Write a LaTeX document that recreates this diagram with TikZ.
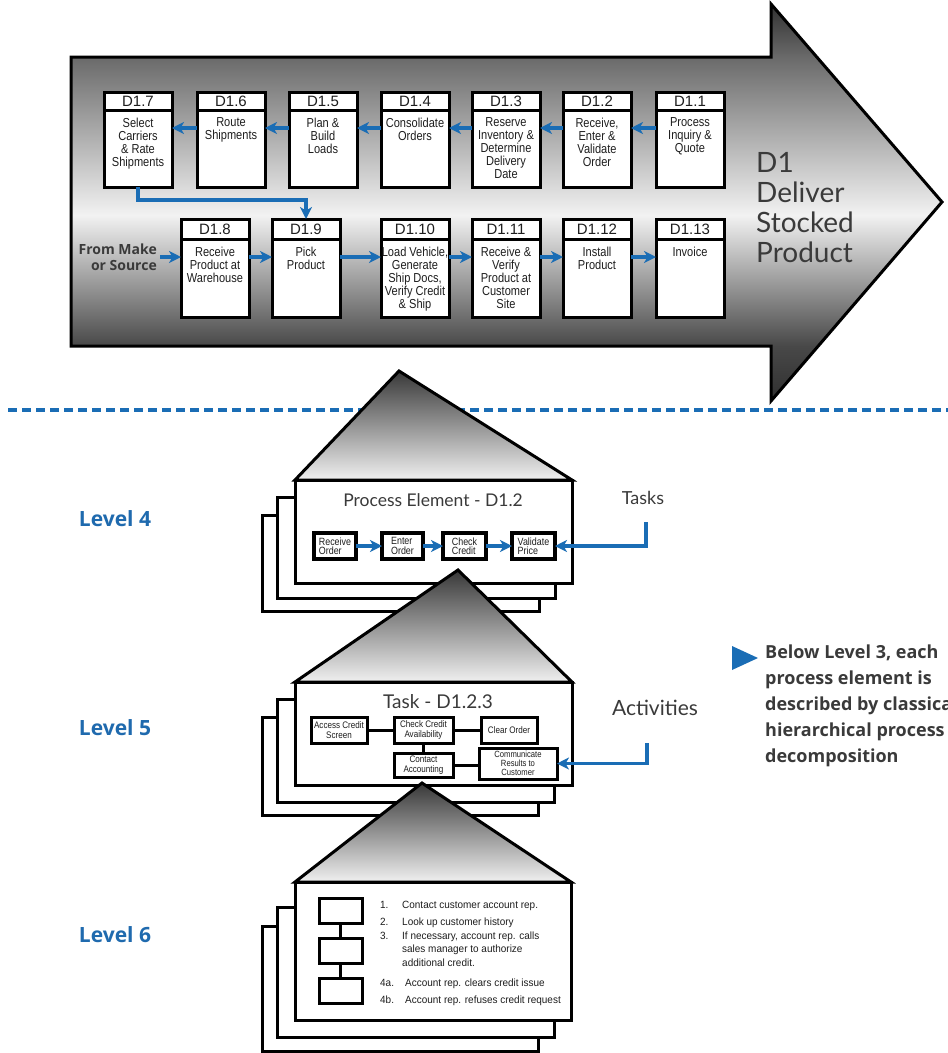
\documentclass[tikz,border=0pt]{standalone}
\usepackage{fontspec}
\setmainfont{Liberation Sans}
\newfontfamily\cond[FakeStretch=0.85]{Liberation Sans}
\newfontfamily\condb[FakeStretch=0.95]{Liberation Sans}
\newfontfamily\lightf{Lato}
\newfontfamily\boldf{Open Sans}
\usetikzlibrary{arrows.meta}
\definecolor{sblue}{HTML}{1A6DB5}
\definecolor{lblue}{HTML}{1F6AAE}
\definecolor{txt}{HTML}{1E1E1E}
\definecolor{dgray}{HTML}{3A3A3A}
\definecolor{sA}{HTML}{303030}
\definecolor{sB}{HTML}{6A6A6A}
\definecolor{sC}{HTML}{F2F2F2}
\definecolor{sD}{HTML}{484848}
\definecolor{tA}{HTML}{383838}
\definecolor{tB}{HTML}{F0F0F0}
\pgfdeclareverticalshading{arrowsh}{100bp}{color(0bp)=(sA); color(25bp)=(sA); color(31.9bp)=(sD); color(48.4bp)=(sC); color(68.3bp)=(sB); color(75bp)=(sA); color(100bp)=(sA)}
\newcommand\procbox[7]{%
  \node[hdr=#4, anchor=north west] (#1h) at (#2,#3) {#6};
  \node[bod, anchor=north west] (#1) at (#1h.south west) {\parbox[t][#5][t]{68pt}{\centering\vspace{8pt}#7}};
}
\begin{document}
\begin{tikzpicture}[x=1pt,y=-1pt,
  hdr/.style={draw=black, line width=3pt, fill=white, minimum width=68pt, minimum height=#1, inner sep=0pt, outer sep=0pt, font=\fontsize{15}{15}\selectfont, text=txt},
  bod/.style={draw=black, line width=3pt, fill=white, inner sep=0pt, outer sep=0pt, font=\cond\fontsize{13}{13}\selectfont, text=txt},
  barrow/.style={draw=sblue, line width=3.5pt, -{Stealth[length=12pt,width=12pt,inset=3.5pt]}},
  page/.style={draw=black, line width=3pt, fill=white},
  tri/.style={draw=black, line width=3pt, top color=tA, bottom color=tB},
  mainbox/.style={draw=black, line width=3pt, fill=white, inner sep=0pt, outer sep=0pt, anchor=north west},
  tbox/.style={draw=black, line width=3.5pt, fill=white, inner sep=0pt, outer sep=0pt, align=left, font=\cond\fontsize{10.5}{9.5}\selectfont, text=txt},
  abox/.style={draw=black, line width=3pt, fill=white, inner sep=0pt, outer sep=0pt, align=center, font=\cond\fontsize{9.5}{10}\selectfont, text=txt},
  sbox/.style={draw=black, line width=3pt, fill=white, inner sep=0pt, outer sep=0pt, minimum width=43pt, minimum height=25pt},
  bline/.style={draw=black, line width=3pt},
  lst/.style={anchor=base west, inner sep=0pt, font=\condb\fontsize{10.5}{12}\selectfont, text=txt},
  lvl/.style={font=\boldf\bfseries\fontsize{21}{24}\selectfont, text=lblue},
  ltxt/.style={font=\lightf, text=dgray, inner sep=0pt}
]
\useasboundingbox (0,0) rectangle (948,1053);

% ---------- big arrow ----------
\shadedraw[shading=arrowsh, line width=3pt] (71,57) -- (771,57) -- (771,4) -- (942,202) -- (771,401) -- (771,346) -- (71,346) -- cycle;
\node[ltxt, anchor=north west, align=left, font=\lightf\fontsize{28}{30}\selectfont] (d1t) at (756,152) {D1\\Deliver\\Stocked\\Product};

\coordinate (r1) at (0,128);
\coordinate (r2) at (0,257);

% top row
\procbox{d11}{656}{92}{18pt}{77pt}{D1.1}{Process\\Inquiry \&\\Quote}
\procbox{d12}{563}{92}{18pt}{77pt}{D1.2}{Receive,\\Enter \&\\Validate\\Order}
\procbox{d13}{472}{92}{18pt}{77pt}{D1.3}{Reserve\\Inventory \&\\Determine\\Delivery\\Date}
\procbox{d14}{381}{92}{18pt}{77pt}{D1.4}{Consolidate\\Orders}
\procbox{d15}{289}{92}{18pt}{77pt}{D1.5}{Plan \&\\Build\\Loads}
\procbox{d16}{197}{92}{18pt}{77pt}{D1.6}{Route\\Shipments}
\procbox{d17}{104}{92}{18pt}{77pt}{D1.7}{Select\\Carriers\\\& Rate\\Shipments}
% bottom row
\procbox{d18}{181}{219}{20pt}{78pt}{D1.8}{Receive\\Product at\\Warehouse}
\procbox{d19}{272}{219}{20pt}{78pt}{D1.9}{Pick\\Product}
\procbox{d110}{381}{219}{20pt}{78pt}{D1.10}{Load Vehicle,\\Generate\\Ship Docs,\\Verify Credit\\\& Ship}
\procbox{d111}{472}{219}{20pt}{78pt}{D1.11}{Receive \&\\Verify\\Product at\\Customer\\Site}
\procbox{d112}{563}{219}{20pt}{78pt}{D1.12}{Install\\Product}
\procbox{d113}{656}{219}{20pt}{78pt}{D1.13}{Invoice}

\node[anchor=east, align=right, inner sep=0pt, font=\boldf\bfseries\fontsize{14}{16}\selectfont, text=dgray] (src) at (157,257) {From Make\\or Source};

\draw[barrow] (d11.west |- r1) -- (d12.east |- r1);
\draw[barrow] (d12.west |- r1) -- (d13.east |- r1);
\draw[barrow] (d13.west |- r1) -- (d14.east |- r1);
\draw[barrow] (d14.west |- r1) -- (d15.east |- r1);
\draw[barrow] (d15.west |- r1) -- (d16.east |- r1);
\draw[barrow] (d16.west |- r1) -- (d17.east |- r1);
\draw[barrow] (d17.south) -- ++(0,13) -| (d19h.north);
\draw[barrow] ([xshift=3pt]src.east |- r2) -- (d18.west |- r2);
\draw[barrow] (d18.east |- r2) -- (d19.west |- r2);
\draw[barrow] (d19.east |- r2) -- (d110.west |- r2);
\draw[barrow] (d110.east |- r2) -- (d111.west |- r2);
\draw[barrow] (d111.east |- r2) -- (d112.west |- r2);
\draw[barrow] (d112.east |- r2) -- (d113.west |- r2);

% ---------- separator ----------
\draw[sblue, line width=3.5pt, dash pattern=on 9pt off 5pt] (8,410) -- (948,410);

% ---------- Level labels ----------
\node[lvl] (lv4) at (115,519) {Level 4};
\node[lvl] (lv5) at (115,728) {Level 5};
\node[lvl] (lv6) at (115,935) {Level 6};

% ---------- Level 4 ----------
\draw[page] (262,515) rectangle (539,611);
\draw[page] (277,497) rectangle (555,598);
\draw[tri] (295,480) -- (399,371) -- (572,480) -- cycle;
\node[mainbox, minimum width=277pt, minimum height=103pt] (pe4) at (295,480) {};
\node[ltxt, font=\lightf\fontsize{17.5}{20}\selectfont] (pe4t) at (433,500) {Process Element - D1.2};
\node[tbox, minimum width=42pt, minimum height=26pt] (t1) at (335,546) {Receive\\Order};
\node[tbox, minimum width=41pt, minimum height=26pt] (t2) at (402.5,546) {Enter\\Order};
\node[tbox, minimum width=43pt, minimum height=26pt] (t3) at (464.5,546) {Check\\Credit};
\node[tbox, minimum width=43pt, minimum height=26pt] (t4) at (533.5,546) {Validate\\Price};
\draw[barrow] (t1) -- (t2);
\draw[barrow] (t2) -- (t3);
\draw[barrow] (t3) -- (t4);
\node[ltxt, font=\lightf\fontsize{18}{20}\selectfont] (tasks) at (643,498) {Tasks};
\coordinate (tk) at (646,522);
\draw[barrow] (tk) |- (t4.east);

% ---------- Level 5 ----------
\draw[page] (262,717) rectangle (538,815);
\draw[page] (277,699) rectangle (554,802);
\draw[tri] (295,682) -- (458,570) -- (572,682) -- cycle;
\node[mainbox, minimum width=277pt, minimum height=103pt] (pe5) at (295,682) {};
\node[ltxt, font=\lightf\fontsize{19}{22}\selectfont] (pe5t) at (438,702) {Task - D1.2.3};
\node[abox, minimum width=56pt, minimum height=26pt] (a1) at (339,730) {Access Credit\\Screen};
\node[abox, minimum width=59pt, minimum height=26pt] (a2) at (423.5,730) {Check Credit\\Availability};
\node[abox, minimum width=56pt, minimum height=26pt] (a3) at (509,730) {Clear Order};
\node[abox, minimum width=59pt, minimum height=24pt] (a4) at (423.5,765) {Contact\\Accounting};
\node[abox, minimum width=78pt, minimum height=31pt, font=\cond\fontsize{9}{8.8}\selectfont] (a5) at (518,763.5) {Communicate\\Results to\\Customer};
\draw[bline] (a1) -- (a2);
\draw[bline] (a2) -- (a3);
\draw[bline] (a2) -- (a4);
\draw[bline] (a4.east) -- (a4.east -| a5.west);
\node[ltxt, font=\lightf\fontsize{21}{24}\selectfont] (acts) at (655,708) {Activities};
\coordinate (ac) at (647,743);
\draw[barrow] (ac) |- (a5.east);

% ---------- Level 6 ----------
\draw[page] (262,926) rectangle (538,1051);
\draw[page] (277,907) rectangle (554,1037);
\draw[tri] (295,882) -- (422,783) -- (571,882) -- cycle;
\node[mainbox, minimum width=276pt, minimum height=138pt] (pe6) at (295,882) {};
\node[sbox] (b1) at (340.5,910.5) {};
\node[sbox] (b2) at (340.5,950.5) {};
\node[sbox] (b3) at (340.5,990.5) {};
\draw[bline] (b1) -- (b2);
\draw[bline] (b2) -- (b3);
\node[lst] (n1) at (380,908) {1.};
\node[lst] (l1) at (402,908) {Contact customer account rep.};
\node[lst] (n2) at (380,925) {2.};
\node[lst] (l2) at (402,925) {Look up customer history};
\node[lst] (n3) at (380,939) {3.};
\node[lst] (l3) at (402,939) {If necessary, account rep. calls};
\node[lst] (l3b) at (402,952) {sales manager to authorize};
\node[lst] (l3c) at (402,966) {additional credit.};
\node[lst] (n4) at (380,986) {4a.};
\node[lst] (l4) at (405,986) {Account rep. clears credit issue};
\node[lst] (n5) at (380,1003) {4b.};
\node[lst] (l5) at (405,1003) {Account rep. refuses credit request};

% ---------- side note ----------
\fill[sblue] (732,646) -- (758,658) -- (732,670) -- cycle;
\node[anchor=north west, align=left, inner sep=0pt, font=\boldf\bfseries\fontsize{18}{26}\selectfont, text=dgray] (note) at (765,645) {Below Level 3, each\\process element is\\described by classical\\hierarchical process\\decomposition};
\end{tikzpicture}
\end{document}
